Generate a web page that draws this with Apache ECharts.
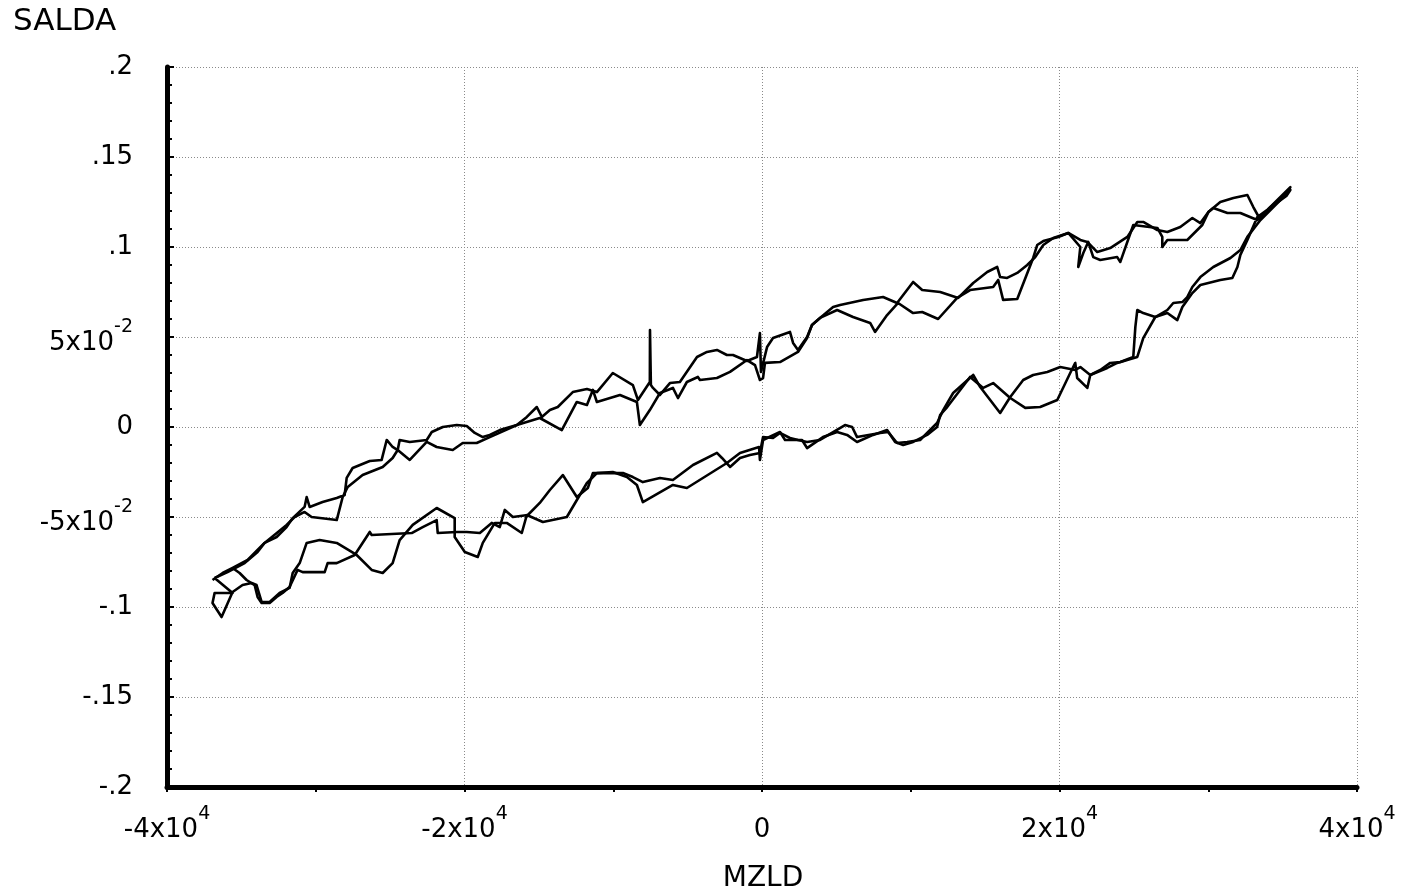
<!DOCTYPE html>
<html><head><meta charset="utf-8">
<script src="https://cdn.jsdelivr.net/npm/echarts@6/dist/echarts.min.js"></script>
<style>html,body{margin:0;padding:0;background:#fff}#c{width:1403px;height:893px}</style>
</head><body><div id="c"></div>
<script>
// ---- axis tick labels ----
const xTickValues = [-40000, -20000, 0, 20000, 40000];
const xTickText = [['-4x10', '4'], ['-2x10', '4'], ['0', ''], ['2x10', '4'], ['4x10', '4']];
const yTickValues = [-0.2, -0.15, -0.1, -0.05, 0, 0.05, 0.1, 0.15, 0.2];
const yTickText = [['-.2', ''], ['-.15', ''], ['-.1', ''], ['-5x10', '-2'], ['0', ''], ['5x10', '-2'], ['.1', ''], ['.15', ''], ['.2', '']];
const xName = 'MZLD';
const yName = 'SALDA';

// ---- data: [MZLD, SALDA] ----
// cycle 1, upper branch (left -> right)
const upperA = [[-36940,-0.085],[-36260,-0.0811],[-35590,-0.0783],[-34580,-0.0739],[-33780,-0.0672],[-33440,-0.0644],[-32630,-0.0611],[-31960,-0.0556],[-31550,-0.0506],[-30750,-0.0444],[-30610,-0.0389],[-30410,-0.0444],[-29540,-0.0417],[-28590,-0.0394],[-28060,-0.0378],[-27920,-0.0283],[-27520,-0.0228],[-26370,-0.0189],[-25570,-0.0183],[-25230,-0.0072],[-24830,-0.0111],[-24490,-0.0128],[-24360,-0.0072],[-23680,-0.0083],[-22540,-0.0072],[-22200,-0.0028],[-21460,0],[-20520,0.0011],[-19850,0.0006],[-19310,-0.0033],[-18770,-0.0056],[-18300,-0.0044],[-17630,-0.0017],[-16480,0.0011],[-15810,0.0056],[-15140,0.0111],[-14800,0.0056],[-14260,0.0094],[-13730,0.0111],[-12720,0.0194],[-11770,0.0211],[-11100,0.0194],[-10030,0.03],[-8680,0.0233],[-8340,0.015],[-7540,0.025],[-7530,0.0539],[-7470,0.0233],[-7330,0.0217],[-6860,0.0178],[-6190,0.0244],[-5520,0.025],[-4370,0.0389],[-3700,0.0417],[-3030,0.0428],[-2360,0.04],[-1950,0.04],[-1010,0.0367],[-340,0.0389],[-140,0.0522],[-70,0.0306],[340,0.0444],[740,0.0494],[1880,0.0528],[2090,0.0467],[2420,0.0428],[3030,0.05],[3360,0.0567],[3900,0.0606],[4780,0.0667],[5250,0.0678],[6800,0.0706],[8140,0.0722],[9080,0.0689],[10160,0.0806],[10770,0.0761],[11980,0.075],[13190,0.0717],[14200,0.08],[15140,0.0861],[15810,0.0889],[16010,0.0833],[16480,0.0828],[17160,0.0856],[17830,0.09],[18370,0.0944],[18910,0.1011],[19580,0.105],[20590,0.1078],[21400,0.1039],[21870,0.1028],[22540,0.0972],[23410,0.0994],[24560,0.1056],[25230,0.1139],[25630,0.1139],[26580,0.1094],[27250,0.1083],[28120,0.1111],[28930,0.1161],[29470,0.1133],[30010,0.1194],[30810,0.125],[31690,0.1272],[32630,0.1289],[33030,0.1222],[33510,0.115],[33980,0.1206],[34650,0.1261],[35520,0.1333]];
// cycle 1, lower branch (right -> left)
const lowerA = [[35320,0.13],[33510,0.115],[32630,0.1056],[32160,0.0983],[31490,0.0939],[30340,0.0889],[29470,0.0833],[28930,0.0778],[28590,0.0722],[28260,0.0694],[27650,0.0689],[27250,0.065],[26440,0.0611],[25630,0.0633],[25230,0.065],[25100,0.0556],[24960,0.0389],[24090,0.0361],[23410,0.0356],[22740,0.0317],[22070,0.0289],[21400,0.0333],[21060,0.0317],[20050,0.0333],[19180,0.0306],[18230,0.0289],[17560,0.0261],[16690,0.0167],[16010,0.0078],[15340,0.015],[14670,0.0222],[14200,0.0289],[12850,0.0189],[12180,0.0094],[11770,0.0022],[11100,-0.0033],[10630,-0.0072],[9760,-0.0083],[9080,-0.0089],[8480,-0.0028],[7940,-0.0033],[6390,-0.0056],[6060,0],[5580,0.0011],[3900,-0.0072],[3030,-0.0083],[2420,-0.0072],[1880,-0.0061],[1210,-0.0033],[740,-0.0061],[70,-0.0056],[-140,-0.0144],[-810,-0.0156],[-1480,-0.0172],[-2150,-0.0222],[-2690,-0.0172],[-3030,-0.0144],[-4640,-0.0211],[-5990,-0.0294],[-6860,-0.0283],[-8010,-0.0306],[-8680,-0.0278],[-9350,-0.0256],[-10430,-0.0256],[-11370,-0.0256],[-11710,-0.0339],[-12450,-0.0389],[-13390,-0.0267],[-14260,-0.035],[-14940,-0.0422],[-15740,-0.0489],[-16750,-0.05],[-17290,-0.0461],[-17630,-0.0556],[-18170,-0.0533],[-18970,-0.0589],[-19850,-0.0583],[-20520,-0.0583],[-21800,-0.0589],[-21870,-0.0517],[-22810,-0.0556],[-23550,-0.0589],[-26240,-0.06],[-26370,-0.0583],[-27380,-0.0711],[-28590,-0.0756],[-29200,-0.0756],[-29400,-0.0806],[-30880,-0.0806],[-31220,-0.0794],[-31760,-0.0889],[-32230,-0.0922],[-32630,-0.0944],[-33100,-0.0978],[-33640,-0.0978],[-33910,-0.0944],[-34110,-0.0878],[-34650,-0.085],[-35120,-0.0811],[-35590,-0.0783],[-36260,-0.0811],[-36940,-0.085]];
// cycle 2, upper branch (left -> right)
const upperB = [[-36800,-0.0839],[-35930,-0.0806],[-34780,-0.0756],[-33910,-0.0694],[-33440,-0.0644],[-31960,-0.0544],[-31420,-0.05],[-30750,-0.0472],[-30280,-0.05],[-28590,-0.0517],[-28190,-0.0389],[-27850,-0.0333],[-26850,-0.0267],[-25500,-0.0222],[-24830,-0.0172],[-24490,-0.0128],[-23680,-0.0183],[-22540,-0.0083],[-21870,-0.0111],[-20790,-0.0128],[-20120,-0.0089],[-19180,-0.0089],[-18300,-0.0056],[-16480,0.0011],[-14940,0.005],[-13460,-0.0017],[-12450,0.0139],[-11770,0.0122],[-11370,0.0206],[-11100,0.0139],[-9550,0.0178],[-8410,0.0139],[-8210,0.0011],[-7540,0.0094],[-6860,0.0189],[-5990,0.0217],[-5650,0.0161],[-5050,0.025],[-4310,0.0278],[-4170,0.0261],[-3030,0.0272],[-2150,0.0306],[-1010,0.0372],[-470,0.0344],[-140,0.0261],[70,0.0272],[200,0.0356],[1210,0.0361],[2420,0.0417],[3030,0.0494],[3360,0.0567],[3900,0.0606],[5050,0.065],[6120,0.0611],[7270,0.0578],[7600,0.0528],[8410,0.0622],[9150,0.0689],[10160,0.0633],[10770,0.0639],[11840,0.06],[13120,0.0717],[13990,0.0761],[15540,0.0778],[15880,0.0817],[16210,0.0706],[17160,0.0711],[18230,0.0939],[18500,0.1011],[18910,0.1033],[19920,0.1056],[20590,0.1078],[21400,0.1],[21260,0.0889],[21600,0.0967],[21930,0.1028],[22270,0.0944],[22740,0.0928],[23880,0.0944],[24090,0.0917],[24960,0.1122],[26580,0.1106],[26910,0.1056],[26910,0.1],[27250,0.1039],[28590,0.1039],[29600,0.1122],[30010,0.1194],[30340,0.1217],[31290,0.1189],[32160,0.1189],[32970,0.1161],[33300,0.115],[34180,0.1222],[35520,0.1317]];
// cycle 2, lower branch (right -> left)
const lowerB = [[35250,0.1283],[33300,0.1167],[32630,0.1039],[32160,0.0956],[31960,0.0889],[31620,0.0828],[30810,0.0817],[29470,0.0789],[28930,0.0744],[28260,0.0667],[27920,0.0594],[27250,0.0633],[26440,0.0611],[25630,0.0494],[25230,0.0389],[23880,0.0356],[23210,0.0328],[22070,0.0289],[21870,0.0217],[21190,0.0272],[21060,0.0356],[20720,0.03],[19850,0.015],[18700,0.0111],[17700,0.0106],[16690,0.0161],[15540,0.0244],[14870,0.0217],[13990,0.0278],[12450,0.0111],[11980,0.0067],[11770,0],[11100,-0.0044],[10160,-0.0083],[9490,-0.01],[8950,-0.0083],[8410,-0.0017],[7470,-0.0044],[6390,-0.0083],[5720,-0.0044],[5050,-0.0028],[4100,-0.0056],[3030,-0.0117],[2690,-0.0072],[1550,-0.0072],[1210,-0.0028],[70,-0.0072],[-140,-0.0183],[-200,-0.0111],[-1480,-0.0144],[-2360,-0.02],[-5050,-0.0339],[-5990,-0.0322],[-8010,-0.0417],[-8410,-0.0322],[-9080,-0.0278],[-10030,-0.025],[-11100,-0.0256],[-11770,-0.0311],[-13120,-0.05],[-14730,-0.0528],[-15810,-0.0489],[-16150,-0.0589],[-17160,-0.0533],[-17960,-0.0533],[-18770,-0.0644],[-19110,-0.0722],[-19980,-0.0694],[-20660,-0.0611],[-20660,-0.0506],[-21870,-0.045],[-23480,-0.0544],[-24360,-0.0628],[-24830,-0.0756],[-25500,-0.0811],[-26240,-0.0794],[-27250,-0.0711],[-28590,-0.0644],[-29740,-0.0628],[-30610,-0.0644],[-31080,-0.0756],[-31550,-0.0811],[-31760,-0.0894],[-32430,-0.0922],[-33100,-0.0972],[-33640,-0.0972],[-33980,-0.0878],[-34310,-0.0867],[-34920,-0.0878],[-35590,-0.0917],[-36330,-0.1056],[-36940,-0.0978],[-36800,-0.0922],[-35590,-0.0922]];

const FONT = 'DejaVu Sans';
const cycle1 = upperA.concat(lowerA);
const cycle2 = upperB.concat(lowerB, [upperB[0]]);

function labelFor(values, texts, v, plainStyle) {
  let idx = -1;
  for (let i = 0; i < values.length; i++) if (Math.abs(values[i] - v) < 1e-9 * Math.max(1, Math.abs(values[i])) + 1e-9) idx = i;
  if (idx < 0) return '';
  const t = texts[idx];
  if (t[1]) return '{n|' + t[0] + '}{s|' + t[1] + '}';
  return '{' + plainStyle + '|' + t[0] + '}';
}
const rich = {
  n: {fontSize: 26, padding: [12, 0, 0, 0], fontFamily: FONT, color: '#000'},
  s: {fontSize: 19, padding: [0, 0, 19, 0], fontFamily: FONT, color: '#000'},
  p: {fontSize: 26, fontFamily: FONT, color: '#000'}
};
const gridLine = {show: true, lineStyle: {color: '#8a8a8a', type: [1, 2], width: 1}};

const chart = echarts.init(document.getElementById('c'), null, {renderer: 'canvas'});
chart.setOption({
  animation: false,
  backgroundColor: '#fff',
  grid: {left: 167, right: 46, top: 67, bottom: 106, containLabel: false},
  xAxis: {
    type: 'value', min: -40000, max: 40000, interval: 20000,
    axisLine: {onZero: false, lineStyle: {color: '#000', width: 5}},
    axisTick: {show: true, length: 5, lineStyle: {color: '#000', width: 2}},
    minorTick: {show: true, splitNumber: 2, length: 5, lineStyle: {color: '#000', width: 2}},
    splitLine: gridLine,
    axisLabel: {margin: 18, color: '#000', rich: rich,
      formatter: v => labelFor(xTickValues, xTickText, v, 'n')}
  },
  yAxis: {
    type: 'value', min: -0.2, max: 0.2, interval: 0.05,
    axisLine: {onZero: false, lineStyle: {color: '#000', width: 5}},
    axisTick: {show: true, inside: true, length: 7, lineStyle: {color: '#000', width: 2}},
    minorTick: {show: true, splitNumber: 5, length: 5, lineStyle: {color: '#000', width: 2}},
    splitLine: gridLine,
    axisLabel: {margin: 34, color: '#000', rich: rich,
      formatter: v => labelFor(yTickValues, yTickText, v, 'p')}
  },
  graphic: [
    {type: 'text', left: 13, top: 6, style: {text: yName, font: '31px "DejaVu Sans"', fill: '#000'}},
    {type: 'text', x: 763, y: 879, style: {text: xName, font: '28px "DejaVu Sans"', fill: '#000', align: 'center', verticalAlign: 'middle'}}
  ],
  series: [
    {type: 'line', data: cycle1, showSymbol: false, symbol: 'none', clip: true,
     lineStyle: {color: '#000', width: 2.6, join: 'round'}},
    {type: 'line', data: cycle2, showSymbol: false, symbol: 'none', clip: true,
     lineStyle: {color: '#000', width: 2.6, join: 'round'}}
  ]
});
</script>
</body></html>
